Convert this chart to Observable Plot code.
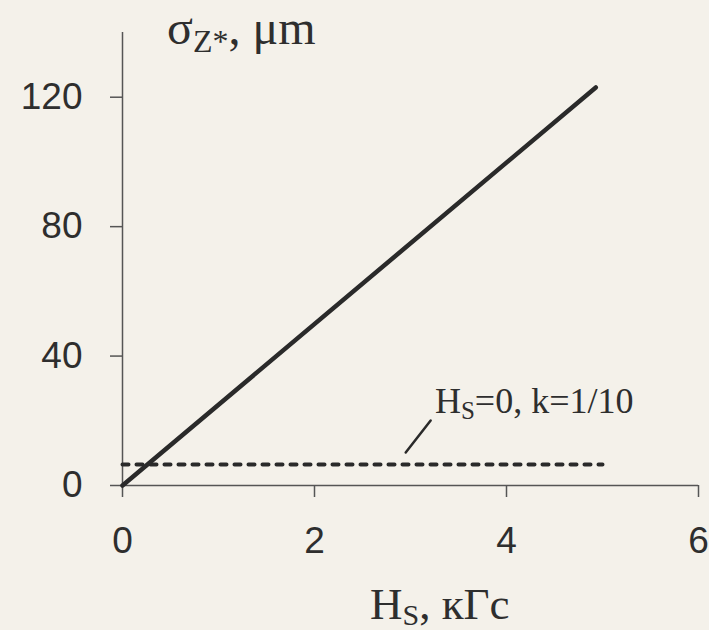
<!DOCTYPE html>
<html>
<head>
<meta charset="utf-8">
<script src="https://cdn.jsdelivr.net/npm/d3@7"></script>
<script src="https://cdn.jsdelivr.net/npm/@observablehq/plot@0.6"></script>
<style>
  html, body { margin: 0; padding: 0; background: #f4f1ea; }
  #chart { width: 709px; height: 630px; overflow: hidden; }
</style>
</head>
<body>
<div id="chart"></div>
<script>
// ---- data ----
const xTicks = [0, 2, 4, 6];
const yTicks = [0, 40, 80, 120];
const solidX = [0, 4.93];
const solidY = [0, 123];
const dottedX = [0, 5];
const dottedY = [6.5, 6.5];
const leaderX = [2.95, 3.21];
const leaderY = [10.2, 20.1];
const annotX = 3.26, annotY = 22.3;
const yLabelParts = ["σ", "Z*", ", μm"];
const xLabelParts = ["H", "S", ", кГс"];
const annotParts = ["H", "S", "=0, k=1/10"];

const solid = solidX.map((x, i) => ({x, y: solidY[i]}));
const dotted = dottedX.map((x, i) => ({x, y: dottedY[i]}));
const leader = leaderX.map((x, i) => ({x, y: leaderY[i]}));

const ink = "#2a2a2a";
const plot = Plot.plot({
  width: 709,
  height: 630,
  marginLeft: 122,
  marginRight: 11,
  marginTop: 32,
  marginBottom: 145,
  style: {background: "#f4f1ea", color: "#333", fontFamily: "'Liberation Sans', Arial, sans-serif", fontSize: "37px", overflow: "visible"},
  x: {domain: [0, 6]},
  y: {domain: [0, 140]},
  marks: [
    Plot.ruleX([0], {y1: 0, y2: 140, stroke: "#555", strokeWidth: 1.5}),
    Plot.ruleY([0], {x1: 0, x2: 6, stroke: "#555", strokeWidth: 1.5}),
    Plot.axisX({ticks: xTicks, tickFormat: "d", tickSize: 12, tickPadding: 29, label: null, fontSize: 37, stroke: "#555", strokeWidth: 1.5, fill: "#2e2e2e"}),
    Plot.axisY({ticks: yTicks, tickFormat: "d", tickSize: 12, tickPadding: 28, label: null, fontSize: 37, stroke: "#555", strokeWidth: 1.5, fill: "#2e2e2e"}),
    Plot.line(dotted, {x: "x", y: "y", stroke: ink, strokeWidth: 4, strokeDasharray: "6,8"}),
    Plot.line(solid, {x: "x", y: "y", stroke: ink, strokeWidth: 4.5, strokeLinecap: "round"}),
    Plot.line(leader, {x: "x", y: "y", stroke: ink, strokeWidth: 2.5})
  ]
});
document.getElementById("chart").appendChild(plot);

const xs = plot.scale("x"), ys = plot.scale("y");
const sx = v => xs.apply(v), sy = v => ys.apply(v);
const svg = d3.select(plot);
function label(parts, x, y, size, subSize, subDy) {
  const t = svg.append("text")
    .attr("x", x).attr("y", y)
    .attr("text-anchor", "start")
    .attr("font-family", "'Liberation Serif', 'Times New Roman', serif")
    .attr("font-size", size).attr("fill", "#2e2e2e");
  t.append("tspan").text(parts[0]);
  t.append("tspan").attr("font-size", subSize).attr("dy", subDy).text(parts[1]);
  t.append("tspan").attr("dy", -subDy).text(parts[2]);
}
// y-axis title (top), x-axis title (bottom), annotation
label(yLabelParts, sx(0) + 45, sy(140) + 12, 48, 32, 8);
label(xLabelParts, 370, 619, 45, 30, 6);
label(annotParts, sx(annotX), sy(annotY), 36, 25, 6);
</script>
</body>
</html>
